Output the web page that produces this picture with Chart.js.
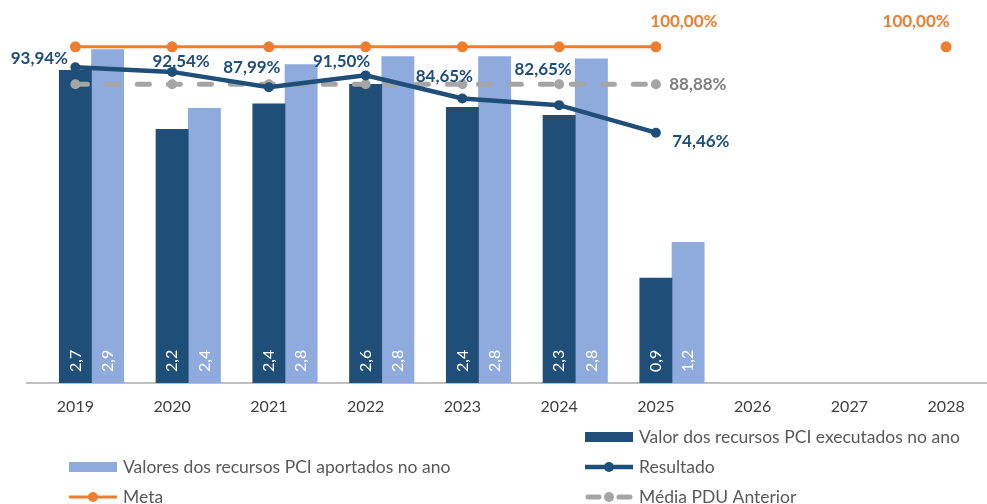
<!DOCTYPE html>
<html>
<head>
<meta charset="utf-8">
<script src="https://cdn.jsdelivr.net/npm/chart.js@4.4.1/dist/chart.umd.min.js"></script>
<style>
  html, body { margin: 0; padding: 0; background: #fff; overflow: hidden; }
  #wrap { width: 1000px; height: 504px; }
</style>
</head>
<body>
<div id="wrap"><canvas id="chart" width="1000" height="504"></canvas></div>
<script>
const years = ["2019", "2020", "2021", "2022", "2023", "2024", "2025", "2026", "2027", "2028"];
const executados = [2.71, 2.20, 2.42, 2.59, 2.39, 2.32, 0.91, null, null, null];
const aportados = [2.89, 2.38, 2.76, 2.83, 2.83, 2.81, 1.22, null, null, null];
const resultado = [93.94, 92.54, 87.99, 91.50, 84.65, 82.65, 74.46, null, null, null];
const meta = [100, 100, 100, 100, 100, 100, 100, null, null, 100];
const mediaPdu = [88.88, 88.88, 88.88, 88.88, 88.88, 88.88, 88.88, null, null, null];

const DARK = "#1F4E79";
const LIGHT = "#8FAADC";
const ORANGE = "#ED7D31";
const GREY = "#A5A5A5";
const FONT = "Lato, 'Liberation Sans', sans-serif";

// label placement relative to the point (px)
const resOffsets = [[-36, -9], [9, -10], [-17, -20], [-24, -14], [-18, -22], [-16, -36], [45, 9]];
const metaOffsets = { 6: [28, -25], 9: [-30, -25] };
const mediaOffsets = { 6: [42, 0] };

const pct = v => v.toFixed(2).replace(".", ",") + "%";
const num = v => v.toFixed(1).replace(".", ",");

const labelsPlugin = {
  id: "labels",
  afterDatasetsDraw(chart) {
    const ctx = chart.ctx;
    const base = chart.scales.y.getPixelForValue(0);
    ctx.save();

    // values inside the bars, rotated
    [1, 2].forEach(di => {
      const meta_ = chart.getDatasetMeta(di);
      const data = chart.data.datasets[di].data;
      meta_.data.forEach((bar, i) => {
        if (data[i] == null) return;
        ctx.save();
        ctx.translate(bar.x, base - 11);
        ctx.rotate(-Math.PI / 2);
        ctx.font = "16px " + FONT;
        ctx.fillStyle = "#fff";
        ctx.textAlign = "left";
        ctx.textBaseline = "middle";
        ctx.fillText(num(data[i]), 0, 0);
        ctx.restore();
      });
    });

    ctx.font = "bold 17px " + FONT;
    ctx.textAlign = "center";
    ctx.textBaseline = "middle";

    const drawSet = (di, offsets, color) => {
      const pts = chart.getDatasetMeta(di).data;
      const data = chart.data.datasets[di].data;
      ctx.fillStyle = color;
      Object.keys(offsets).forEach(k => {
        const i = +k;
        if (data[i] == null) return;
        const [dx, dy] = offsets[k];
        ctx.fillText(pct(data[i]), pts[i].x + dx, pts[i].y + dy);
      });
    };
    drawSet(3, resOffsets, DARK);
    drawSet(4, metaOffsets, ORANGE);
    drawSet(5, mediaOffsets, "#7F7F7F");
    ctx.restore();
  },
  afterDraw(chart) {
    // two-column legend like the original
    const ctx = chart.ctx;
    const cols = [69, 585];
    const rows = [437, 467, 497];
    const items = [
      { ds: 1, col: 1, row: 0, kind: "box", color: DARK },
      { ds: 2, col: 0, row: 1, kind: "box", color: LIGHT },
      { ds: 3, col: 1, row: 1, kind: "line", color: DARK, w: 4.5 },
      { ds: 4, col: 0, row: 2, kind: "line", color: ORANGE, w: 3 },
      { ds: 5, col: 1, row: 2, kind: "dash", color: GREY, w: 5 }
    ];
    ctx.save();
    items.forEach(it => {
      const x = cols[it.col], y = rows[it.row];
      ctx.fillStyle = it.color;
      ctx.strokeStyle = it.color;
      if (it.kind === "box") {
        ctx.fillRect(x, y - 5, 48, 10);
      } else {
        ctx.lineWidth = it.w;
        ctx.lineCap = it.kind === "dash" ? "round" : "butt";
        ctx.beginPath();
        if (it.kind === "dash") {
          ctx.moveTo(x + 3, y); ctx.lineTo(x + 14, y);
          ctx.moveTo(x + 34, y); ctx.lineTo(x + 45, y);
        } else {
          ctx.moveTo(x, y); ctx.lineTo(x + 48, y);
        }
        ctx.stroke();
        ctx.beginPath();
        ctx.arc(x + 24, y, 5, 0, Math.PI * 2);
        ctx.fill();
      }
      ctx.fillStyle = "#595959";
      ctx.font = "17.5px " + FONT;
      ctx.textAlign = "left";
      ctx.textBaseline = "middle";
      ctx.fillText(chart.data.datasets[it.ds].label, x + 54, y);
    });
    ctx.restore();
  }
};

new Chart(document.getElementById("chart"), {
  type: "bar",
  data: {
    labels: years,
    datasets: [
      { label: "", data: years.map(() => null), backgroundColor: "transparent", yAxisID: "y", order: 3 },
      { label: "Valor dos recursos PCI executados no ano", data: executados, backgroundColor: DARK, yAxisID: "y", order: 3 },
      { label: "Valores dos recursos PCI aportados no ano", data: aportados, backgroundColor: LIGHT, yAxisID: "y", order: 3 },
      {
        type: "line", label: "Resultado", data: resultado, yAxisID: "y2", order: 0,
        borderColor: DARK, backgroundColor: DARK, borderWidth: 4.5,
        pointRadius: 5, pointHoverRadius: 5, pointBorderWidth: 0, spanGaps: false
      },
      {
        type: "line", label: "Meta", data: meta, yAxisID: "y2", order: 2,
        borderColor: ORANGE, backgroundColor: ORANGE, borderWidth: 3,
        pointRadius: 5.5, pointHoverRadius: 5.5, pointBorderWidth: 0, spanGaps: false
      },
      {
        type: "line", label: "Média PDU Anterior", data: mediaPdu, yAxisID: "y2", order: 1,
        borderColor: GREY, backgroundColor: GREY, borderWidth: 5,
        borderDash: [12, 19], borderCapStyle: "round",
        pointRadius: 5, pointHoverRadius: 5, pointBorderWidth: 0, spanGaps: false
      }
    ]
  },
  options: {
    responsive: false,
    animation: false,
    layout: { padding: { left: 27, right: 1, top: 30, bottom: 0 } },
    datasets: { bar: { categoryPercentage: 1, barPercentage: 1 } },
    plugins: {
      legend: { display: false },
      tooltip: { enabled: false },
      title: { display: false }
    },
    scales: {
      x: {
        grid: { display: false, drawTicks: false },
        border: { display: true, color: "#BFBFBF", width: 2 },
        ticks: { color: "#404040", font: { family: FONT, size: 16 }, padding: 14, maxRotation: 0 },
        afterFit(scale) { scale.height = 121; }
      },
      y: { display: false, min: 0, max: 3.06 },
      y2: { display: false, min: 0, max: 105 }
    }
  },
  plugins: [labelsPlugin]
});
</script>
</body>
</html>
